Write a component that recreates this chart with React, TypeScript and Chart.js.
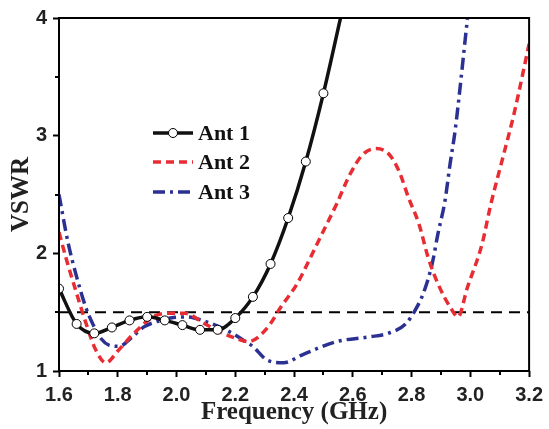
import React, { useEffect, useRef } from 'react';
import { Chart, registerables } from 'chart.js';

Chart.register(...registerables);

// ---------- data ----------
const seriesLabels = ['Ant 1', 'Ant 2', 'Ant 3'];

const ant1Freq = [1.6, 1.66, 1.72, 1.78, 1.84, 1.9, 1.96, 2.02, 2.08, 2.14, 2.2, 2.26, 2.32, 2.38, 2.44, 2.5, 2.56];
const ant1Vswr = [1.7, 1.4, 1.32, 1.37, 1.43, 1.46, 1.43, 1.39, 1.35, 1.35, 1.45, 1.63, 1.91, 2.3, 2.78, 3.36, 4.02];

const ant2Freq = [1.6, 1.625, 1.655, 1.69, 1.725, 1.76, 1.8, 1.855, 1.92, 1.97, 2.03, 2.09, 2.15, 2.2, 2.245, 2.31, 2.354, 2.41, 2.455, 2.5, 2.545, 2.59, 2.634, 2.68, 2.724, 2.757, 2.79, 2.825, 2.857, 2.89, 2.937, 2.958, 2.99, 3.04, 3.07, 3.105, 3.15, 3.2];
const ant2Vswr = [2.18, 1.95, 1.7, 1.42, 1.18, 1.07, 1.17, 1.32, 1.46, 1.49, 1.49, 1.41, 1.33, 1.28, 1.25, 1.37, 1.54, 1.74, 1.96, 2.19, 2.42, 2.67, 2.84, 2.89, 2.84, 2.7, 2.47, 2.25, 1.96, 1.74, 1.52, 1.46, 1.71, 2.08, 2.42, 2.76, 3.2, 3.78];

const ant3Freq = [1.6, 1.63, 1.66, 1.69, 1.715, 1.745, 1.77, 1.805, 1.85, 1.889, 1.933, 1.98, 2.034, 2.1, 2.168, 2.235, 2.259, 2.31, 2.365, 2.43, 2.545, 2.656, 2.72, 2.78, 2.813, 2.84, 2.87, 2.89, 2.914, 2.931, 2.948, 2.99];
const ant3Vswr = [2.5, 2.1, 1.8, 1.55, 1.4, 1.27, 1.22, 1.21, 1.29, 1.375, 1.42, 1.45, 1.46, 1.42, 1.35, 1.25, 1.21, 1.09, 1.07, 1.14, 1.25, 1.29, 1.32, 1.4, 1.52, 1.66, 1.91, 2.17, 2.45, 2.76, 3.04, 3.99];

const refFreq = [1.6, 3.2];
const refVswr = [1.5, 1.5];

const xTicks = [1.6, 1.8, 2.0, 2.2, 2.4, 2.6, 2.8, 3.0, 3.2];
const xMinorTicks = [1.7, 1.9, 2.1, 2.3, 2.5, 2.7, 2.9, 3.1];
const yTicks = [1, 2, 3, 4];
const yMinorTicks = [1.5, 2.5, 3.5];

const toPoints = (xs: number[], ys: number[]) => xs.map((x, i) => ({ x, y: ys[i] }));

const RED = '#e72d33';
const BLUE = '#2b3192';
const BLACK = '#111111';

export default function App() {
  const ref = useRef<HTMLCanvasElement | null>(null);

  useEffect(() => {
    if (!ref.current) return;

    const framePlugin = {
      id: 'framePlugin',
      afterDraw(chart: any) {
        const { ctx, chartArea } = chart;
        const xs = chart.scales.x;
        const ys = chart.scales.y;
        ctx.save();
        // frame
        ctx.strokeStyle = '#000';
        ctx.lineWidth = 2;
        ctx.strokeRect(chartArea.left, chartArea.top, chartArea.right - chartArea.left, chartArea.bottom - chartArea.top);
        // minor ticks
        ctx.lineWidth = 2;
        ctx.beginPath();
        xMinorTicks.forEach((v) => {
          const px = Math.round(xs.getPixelForValue(v));
          ctx.moveTo(px, chartArea.bottom);
          ctx.lineTo(px, chartArea.bottom + 4);
        });
        yMinorTicks.forEach((v) => {
          const py = Math.round(ys.getPixelForValue(v));
          ctx.moveTo(chartArea.left, py);
          ctx.lineTo(chartArea.left - 4, py);
        });
        ctx.stroke();

        // legend
        const rows = [133, 162, 192];
        const lx0 = 153;
        const lx1 = 193;
        const tx = 198;
        const ds = chart.data.datasets;
        for (let i = 0; i < 3; i++) {
          const d = ds[i];
          const y = rows[i];
          ctx.save();
          ctx.strokeStyle = d.borderColor;
          ctx.lineWidth = d.borderWidth;
          ctx.setLineDash(d.borderDash || []);
          ctx.beginPath();
          ctx.moveTo(lx0, y);
          ctx.lineTo(lx1, y);
          ctx.stroke();
          ctx.restore();
          if (i === 0) {
            ctx.beginPath();
            ctx.arc((lx0 + lx1) / 2, y, 4.5, 0, Math.PI * 2);
            ctx.fillStyle = '#fff';
            ctx.fill();
            ctx.lineWidth = 1;
            ctx.strokeStyle = '#000';
            ctx.stroke();
          }
          ctx.fillStyle = '#111';
          ctx.font = 'bold 22px "Liberation Serif", serif';
          ctx.textAlign = 'left';
          ctx.textBaseline = 'middle';
          ctx.fillText(seriesLabels[i], tx, y + 1);
        }
        ctx.restore();
      },
    };

    const chart = new Chart(ref.current, {
      type: 'line',
      data: {
        datasets: [
          {
            label: seriesLabels[0],
            data: toPoints(ant1Freq, ant1Vswr),
            borderColor: BLACK,
            borderWidth: 3.5,
            pointRadius: (c: any) => (c.dataIndex === ant1Freq.length - 1 ? 0 : 4.5),
            pointBackgroundColor: '#ffffff',
            pointBorderColor: '#000000',
            pointBorderWidth: 1,
            cubicInterpolationMode: 'monotone',
          },
          {
            label: seriesLabels[1],
            data: toPoints(ant2Freq, ant2Vswr),
            borderColor: RED,
            borderWidth: 3.5,
            borderDash: [8, 5],
            pointRadius: 0,
            cubicInterpolationMode: 'monotone',
          },
          {
            label: seriesLabels[2],
            data: toPoints(ant3Freq, ant3Vswr),
            borderColor: BLUE,
            borderWidth: 3.5,
            borderDash: [12, 5, 3, 5],
            pointRadius: 0,
            cubicInterpolationMode: 'monotone',
          },
          {
            label: 'ref',
            data: toPoints(refFreq, refVswr),
            borderColor: '#000000',
            borderWidth: 2,
            borderDash: [11, 7],
            pointRadius: 0,
          },
        ],
      } as any,
      options: {
        animation: false,
        responsive: false,
        devicePixelRatio: 1,
        layout: { padding: { top: 16, right: 14, left: 0, bottom: 0 } },
        plugins: { legend: { display: false }, tooltip: { enabled: false } },
        scales: {
          x: {
            type: 'linear',
            min: 1.6,
            max: 3.2,
            afterFit: (s: any) => {
              s.height = 58;
            },
            afterBuildTicks: (s: any) => {
              s.ticks = xTicks.map((v) => ({ value: v }));
            },
            border: { display: false },
            grid: { drawOnChartArea: false, tickLength: 6, tickColor: '#000', tickWidth: 2 },
            ticks: {
              autoSkip: false,
              maxRotation: 0,
              padding: 6,
              color: '#222',
              font: { family: '"Liberation Sans", Arial, sans-serif', size: 20, weight: 'bold' },
              callback: (v: any) => Number(v).toFixed(1),
            },
            title: {
              display: true,
              text: 'Frequency (GHz)',
              color: '#222',
              padding: { top: 0, bottom: 1 },
              font: { family: '"Liberation Serif", serif', size: 25, weight: 'bold' },
            },
          },
          y: {
            type: 'linear',
            min: 1,
            max: 4,
            afterFit: (s: any) => {
              s.width = 59;
            },
            afterBuildTicks: (s: any) => {
              s.ticks = yTicks.map((v) => ({ value: v }));
            },
            border: { display: false },
            grid: { drawOnChartArea: false, tickLength: 6, tickColor: '#000', tickWidth: 2 },
            ticks: {
              padding: 6,
              color: '#222',
              font: { family: '"Liberation Sans", Arial, sans-serif', size: 20, weight: 'bold' },
              callback: (v: any) => String(v),
            },
            title: {
              display: true,
              text: 'VSWR',
              color: '#222',
              padding: { top: 7, bottom: 0 },
              font: { family: '"Liberation Serif", serif', size: 25, weight: 'bold' },
            },
          },
        },
      } as any,
      plugins: [framePlugin],
    });

    return () => chart.destroy();
  }, []);

  return (
    <div style={{ position: 'fixed', left: 0, top: 0, width: 549, height: 429, background: '#fff' }}>
      <canvas ref={ref} width={549} height={429} />
    </div>
  );
}
